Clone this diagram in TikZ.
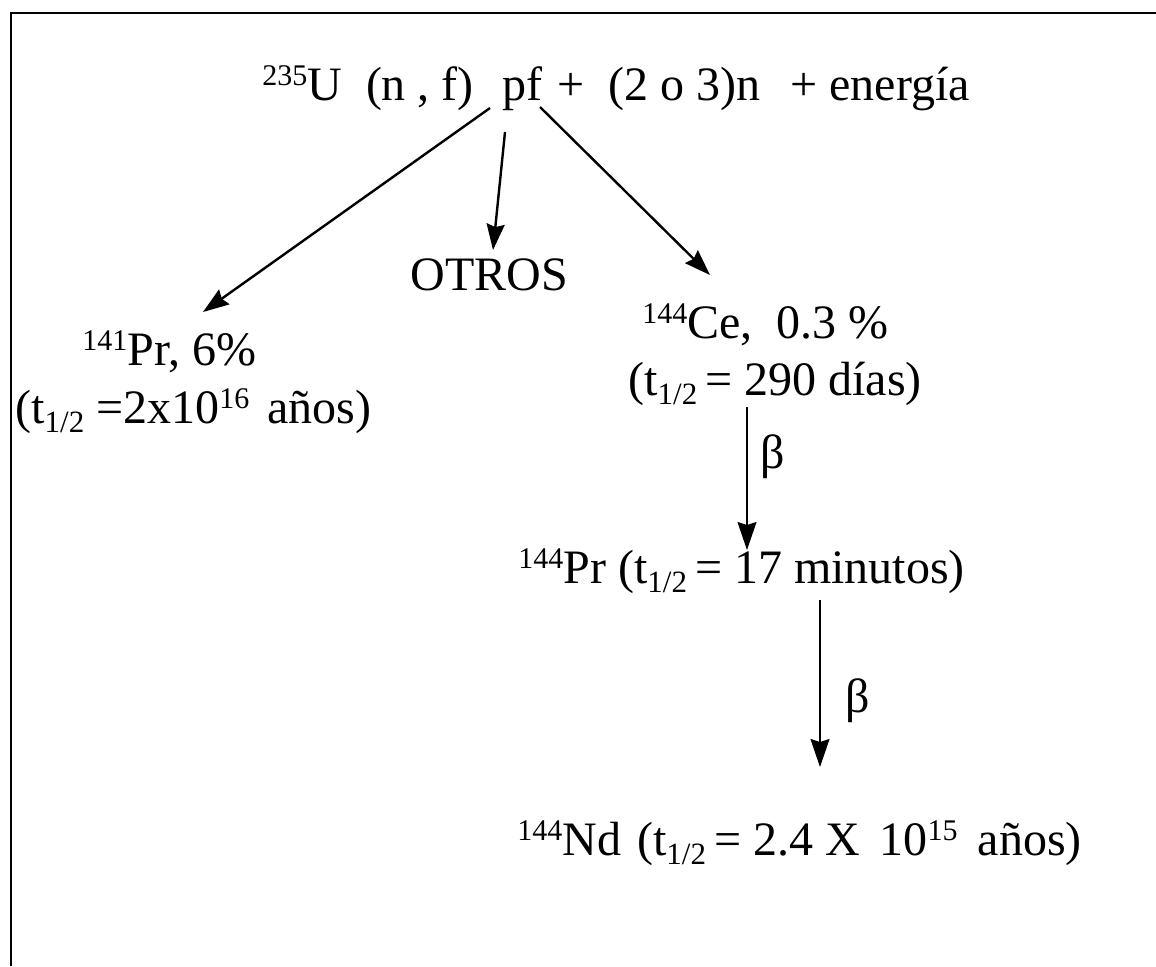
\documentclass[tikz,border=0pt]{standalone}
\usepackage{fontspec}
\setmainfont{Liberation Serif}
\usetikzlibrary{positioning,arrows.meta}
\newcommand{\iso}[1]{\raisebox{7.5pt}{\fontsize{15}{15}\selectfont #1}}
\newcommand{\thalf}{t\raisebox{-4.5pt}{\fontsize{15.5}{15}\selectfont 1/2}}

\begin{document}
\begin{tikzpicture}[
  x=0.5pt, y=-0.5pt,
  txt/.style={inner sep=0pt, anchor=base west, font=\fontsize{24}{29}\selectfont},
  fis/.style={-{Stealth[length=13pt,width=9pt,inset=1.5pt]}, line width=1.2pt},
  decay/.style={-{Stealth[length=14pt,width=9.5pt,inset=1.5pt]}, line width=0.75pt}
]
\useasboundingbox (0,0) rectangle (1156,966);
\draw[line width=1.3pt] (11,966) -- (11,13) -- (1156,13);

% reaccion de fision
\node[txt] (reac) at (262,100) {\iso{235}U\ \ (n , f)};
\node[txt] (pf) at (502,100) {pf};
\node[txt] (prod) at (557,100) {+\hspace{12pt}(2 o 3)n\hspace{15pt}+ energía};

% productos
\node[txt] (pr141a) at (82,365) {\iso{141}Pr, 6\%};
\node[txt] (pr141b) at (15,423) {(\thalf\ =2x10\iso{16}\hspace{3pt} años)};
\node[txt] (otros) at (410,290) {OTROS};
\node[txt] (ce144a) at (642,338) {\iso{144}Ce,\ \ 0.3 \%};
\node[txt] (ce144b) at (628,395) {(\thalf\,= 290 días)};
\node[txt] (pr144) at (518,583) {\iso{144}Pr (\thalf\,= 17 minutos)};
\node[txt] (nd144) at (517,855) {\iso{144}Nd\hspace{2pt} (\thalf\,= 2.4 X\hspace{4pt} 10\iso{15}\hspace{4pt} años)};

\draw[fis] ([xshift=-6pt,yshift=-4pt]pf.base west) -- ([xshift=60.5pt,yshift=26.5pt]pr141a.base west);
\draw[fis] ([xshift=1.5pt,yshift=-16pt]pf.base west) -- ([xshift=41.5pt,yshift=20pt]otros.base west);
\draw[fis] ([xshift=19pt,yshift=-3.5pt]pf.base west) -- ([xshift=34pt,yshift=31.5pt]ce144a.base west);

% decaimientos beta
\draw[decay] ([xshift=59.5pt,yshift=-6pt]ce144b.base west) -- node[txt, anchor=west, pos=0.35, xshift=6.5pt] {β} ([xshift=114.5pt,yshift=16.5pt]pr144.base west);
\draw[decay] ([xshift=151pt,yshift=-8.5pt]pr144.base west) -- node[txt, anchor=west, pos=0.6, xshift=12.5pt] {β} ([xshift=151.5pt,yshift=44pt]nd144.base west);
\end{tikzpicture}
\end{document}
